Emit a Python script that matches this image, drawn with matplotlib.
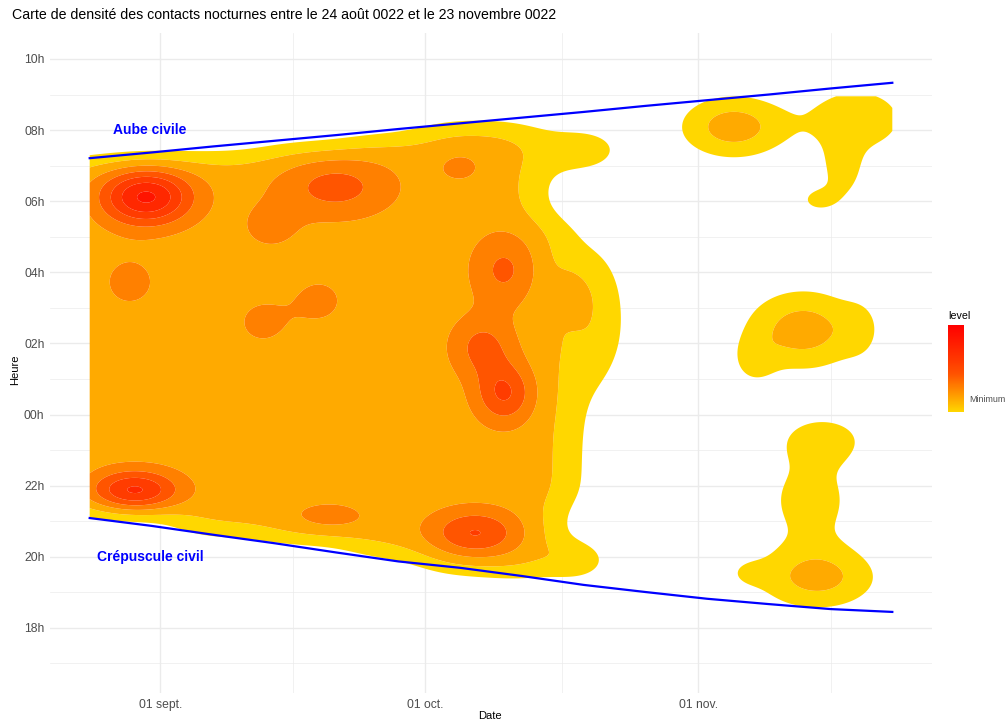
import math
import datetime as dt
import numpy as np
import matplotlib
matplotlib.use("Agg")
import matplotlib.pyplot as plt
from matplotlib.colors import LinearSegmentedColormap, Normalize
from matplotlib.cm import ScalarMappable

plt.rcParams["font.family"] = ["Liberation Sans", "DejaVu Sans"]

DEBUT = dt.date(22, 8, 24)
FIN = dt.date(22, 11, 23)
MOIS = {8: "août", 9: "sept.", 10: "oct.", 11: "nov."}

# Aube / crépuscule civils, relevés chaque semaine (heures décimales)
jours_releve = [0, 7, 14, 21, 28, 35, 42, 49, 56, 63, 70, 77, 84, 91]
aube_civile = [7.21, 7.37, 7.54, 7.70, 7.86, 8.03, 8.19, 8.35, 8.51, 8.68,
               8.84, 9.00, 9.17, 9.33]
crepuscule_civil = [21.09, 20.87, 20.62, 20.38, 20.12, 19.87, 19.69, 19.46,
                    19.21, 19.01, 18.82, 18.67, 18.53, 18.45]

# Heures extrêmes des contacts enregistrés
heure_premier_contact = 18.55
heure_dernier_contact = 8.95

# Activité continue : blocs (jours depuis le début, heure début, heure fin)
bloc_j0 = [-5, 10, 20, 30, 38, 46, 46, 46, 46]
bloc_j1 = [10, 20, 30, 38, 46, 51, 54, 55, 53]
bloc_h0 = [21.30, 20.65, 20.45, 20.05, 19.60, 5.50, 2.50, 21.50, 19.45]
bloc_h1 = [7.17, 7.30, 7.52, 7.80, 8.18, 8.15, 5.50, 2.50, 21.50]
bloc_poids = [2.5, 2.5, 2.5, 2.5, 2.5, 2.5, 2.5, 2.5, 2.5]

# Foyers de contacts
foyer_jour = [6.4, 27.9, 20.5, 42.0, 47.0, 44.5, 47.0, 4.5, 19.6, 26.0,
              5.1, 27.1, 43.7, 73.0, 87.0, 85.4, 82.6, 80.9, 75.3, 87.5,
              82.5, 81.7, 83.2, 74.5, 57.8, 56.0, 54.5, 55.5]
foyer_heure = [6.12, 6.40, 5.30, 6.96, 4.07, 1.90, 0.60, 3.73, 2.60, 3.20,
               21.85, 21.10, 20.67, 8.09, 8.30, 6.90, 6.04, 2.38, 1.48, 2.40,
               19.41, 21.60, 23.30, 19.55, 2.80, 7.44, 3.40, 19.90]
foyer_poids = [4.7, 1.9, 0.8, 0.7, 1.7, 1.8, 2.6, 0.75, 0.7, 0.7,
               3.8, 0.9, 2.55, 2.5, 1.75, 1.5, 1.2, 2.5, 1.0, 0.7,
               2.3, 1.4, 1.4, 0.7, 1.5, 1.4, 1.0, 1.3]
foyer_etal_j = [3.6, 4.5, 2.5, 2.2, 2.6, 2.5, 2.3, 2.6, 2.5, 2.5,
                3.5, 3.5, 3.6, 4.3, 4.2, 1.6, 1.8, 4.6, 1.8, 1.6,
                4.8, 4.0, 3.5, 1.8, 2.5, 3.5, 1.5, 2.5]
foyer_etal_h = [0.55, 0.6, 0.5, 0.38, 0.72, 0.6, 0.6, 0.6, 0.55, 0.55,
                0.41, 0.35, 0.47, 0.63, 0.7, 0.6, 0.3, 0.8, 0.5, 0.6,
                0.64, 1.0, 0.5, 0.3, 1.4, 0.5, 0.5, 0.4]

seuils = [1, 2, 3, 4, 5, 6, 7, 20]
couleurs = ["#FFD700", "#FFAA00", "#FF8000", "#FF5500", "#FF3C00", "#FF2800",
            "#FF1400", "#FF0000"]

LISSAGE_J, LISSAGE_H = 3.0, 0.4


def nuit(h):
    """Heure ramenée sur un axe continu de midi à midi."""
    h = np.asarray(h, dtype=float)
    return np.where(h < 12, h + 24, h)


erf = np.vectorize(math.erf)


def phi(z):
    return 0.5 * (1 + erf(z / math.sqrt(2)))


# grille de densité limitée à l'étendue des contacts
n_jours = (FIN - DEBUT).days
jj = np.linspace(0, n_jours, 600)
hh = np.linspace(nuit(heure_premier_contact), nuit(heure_dernier_contact), 450)
J, H = np.meshgrid(jj, hh)
dens = np.zeros_like(J)
for j0, j1, h0, h1, p in zip(bloc_j0, bloc_j1, bloc_h0, bloc_h1, bloc_poids):
    fx = phi((jj - j0) / LISSAGE_J) - phi((jj - j1) / LISSAGE_J)
    fy = phi((hh - nuit(h0)) / LISSAGE_H) - phi((hh - nuit(h1)) / LISSAGE_H)
    dens += p * np.outer(fy, fx)
for j, h, p, sj, sh in zip(foyer_jour, foyer_heure, foyer_poids,
                           foyer_etal_j, foyer_etal_h):
    dens += p * np.exp(-0.5 * ((J - j) / sj) ** 2 - 0.5 * ((H - nuit(h)) / sh) ** 2)

fig = plt.figure(figsize=(10.08, 7.22), dpi=100)
ax = fig.add_axes([50 / 1008, 1 - 693 / 722, 882 / 1008, 660 / 722])
ax.set_axisbelow(True)

ax.contourf(J, H, dens, levels=seuils, colors=couleurs[:7], antialiased=True)

ax.plot(jours_releve, nuit(aube_civile), color="#0000FF", lw=1.6)
ax.plot(jours_releve, crepuscule_civil, color="#0000FF", lw=1.6)
ax.text(2.64, 32.0, "Aube civile", color="#0000FF", fontsize=10,
        fontweight="bold", va="center", ha="left")
ax.text(0.83, 20.0, "Crépuscule civil", color="#0000FF", fontsize=10,
        fontweight="bold", va="center", ha="left")

# axes
ax.set_xlim(-4.5, 95.5)
ax.set_ylim(16.17, 34.73)
mois_ticks = [dt.date(22, 9, 1), dt.date(22, 10, 1), dt.date(22, 11, 1)]
ax.set_xticks([(d - DEBUT).days for d in mois_ticks])
ax.set_xticklabels([f"{d.day:02d} {MOIS[d.month]}" for d in mois_ticks])
ax.set_xticks([23, 53.5, 84], minor=True)
yt = np.arange(18, 35, 2)
ax.set_yticks(yt)
ax.set_yticklabels([f"{int(v) % 24:02d}h" for v in yt])
ax.set_yticks(np.arange(17, 34, 2), minor=True)
ax.tick_params(which="both", length=0, labelsize=8.7, labelcolor="#4D4D4D")
ax.tick_params(axis="y", pad=4)
ax.tick_params(axis="x", pad=4)
ax.grid(which="major", color="#EBEBEB", lw=1.0)
ax.grid(which="minor", color="#EBEBEB", lw=0.5)
for s in ax.spines.values():
    s.set_visible(False)

fig.text(12 / 1008, 1 - 15 / 722,
         "Carte de densité des contacts nocturnes entre le "
         f"{DEBUT.day} {MOIS[DEBUT.month]} {DEBUT.year:04d} et le "
         f"{FIN.day} novembre {FIN.year:04d}",
         fontsize=10.2, va="center", ha="left")
fig.text(15 / 1008, 1 - 370 / 722, "Heure", rotation=90, fontsize=8,
         va="center", ha="center")
fig.text(490 / 1008, 1 - 716 / 722, "Date", fontsize=8, va="center", ha="center")

# légende
cmap = LinearSegmentedColormap.from_list("niveau", couleurs)
cax = fig.add_axes([948 / 1008, 1 - 412 / 722, 16 / 1008, 87 / 722])
cb = fig.colorbar(ScalarMappable(Normalize(1, 8), cmap), cax=cax)
cb.outline.set_visible(False)
cb.set_ticks([2.1])
cb.set_ticklabels(["Minimum"])
cax.tick_params(length=0, labelsize=6.4, labelcolor="#4D4D4D", pad=4)
fig.text(948 / 1008, 1 - 316 / 722, "level", fontsize=7.7, va="center", ha="left")

fig.savefig("out.png", dpi=100)
